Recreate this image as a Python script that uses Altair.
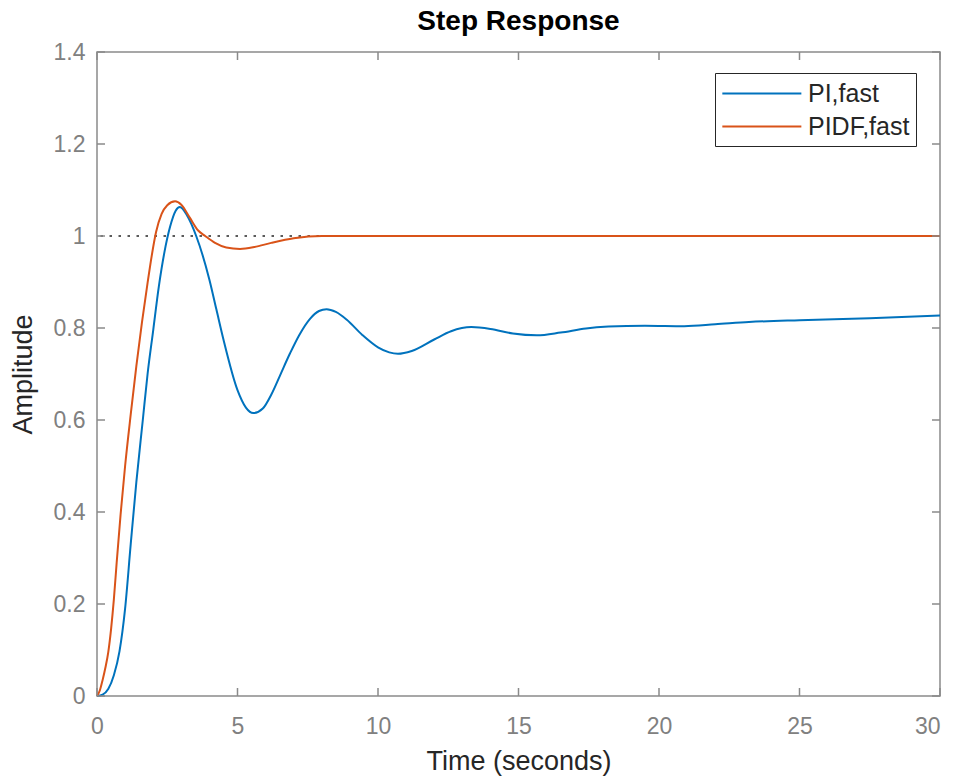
import altair as alt
import pandas as pd

# ---- data ----
series_names = ["PI,fast", "PIDF,fast"]
series_colors = ["#0072BD", "#D95319"]

pi_t = [0, 0.2, 0.4, 0.6, 0.8, 1.0, 1.2, 1.4, 1.63, 1.8, 2.0, 2.2, 2.4, 2.6, 2.8, 2.95,
        3.2, 3.53, 4.0, 4.25, 4.5, 5.0, 5.3, 5.56, 5.9, 6.2, 6.5, 6.87, 7.2, 7.58, 7.9,
        8.17, 8.5, 8.89, 9.44, 10.0, 10.4, 10.71, 11.2, 12.0, 12.6, 13.32, 14.0, 14.8,
        15.65, 16.5, 17.4, 18.2, 19.5, 20.9, 22.0, 23.2, 25.0, 27.5, 30.0]
pi_v = [0, 0.003, 0.015, 0.045, 0.097, 0.19, 0.33, 0.465, 0.60, 0.70, 0.795, 0.89, 0.965,
        1.02, 1.055, 1.063, 1.045, 1.0, 0.905, 0.84, 0.775, 0.665, 0.627, 0.615, 0.625,
        0.655, 0.695, 0.745, 0.785, 0.82, 0.837, 0.841, 0.835, 0.818, 0.785, 0.758, 0.747,
        0.744, 0.75, 0.775, 0.793, 0.802, 0.798, 0.788, 0.784, 0.79, 0.799, 0.803, 0.805,
        0.804, 0.808, 0.813, 0.817, 0.821, 0.827]

pidf_t = [0, 0.1, 0.2, 0.3, 0.4, 0.5, 0.6, 0.7, 0.84, 1.0, 1.2, 1.4, 1.6, 1.8, 1.95, 2.1,
          2.3, 2.5, 2.78, 3.0, 3.3, 3.6, 3.85, 4.2, 4.6, 5.09, 5.6, 6.2, 7.0, 8.0, 9.0,
          12.0, 16.0, 20.0, 25.0, 30.0]
pidf_v = [0, 0.012, 0.035, 0.062, 0.095, 0.145, 0.21, 0.29, 0.395, 0.50, 0.612, 0.717, 0.812,
          0.898, 0.958, 1.008, 1.048, 1.067, 1.0755, 1.068, 1.04, 1.012, 1.0, 0.985, 0.975,
          0.972, 0.976, 0.985, 0.995, 1.0, 1.0, 1.0, 1.0, 1.0, 1.0, 1.0]

x_ticks = [0, 5, 10, 15, 20, 25, 30]
y_ticks = [0, 0.2, 0.4, 0.6, 0.8, 1.0, 1.2, 1.4]
steady_value = [1.0]

W, H = 843, 644
FONT = "Liberation Sans"
FRAME = "#8a8a8a"

df = pd.concat([
    pd.DataFrame({"t": pi_t, "v": pi_v, "series": series_names[0]}),
    pd.DataFrame({"t": pidf_t, "v": pidf_v, "series": series_names[1]}),
])

xscale = alt.Scale(domain=[0, 30], nice=False)
yscale = alt.Scale(domain=[0, 1.4], nice=False)

x_axis = alt.Axis(values=x_ticks, title="Time (seconds)", ticks=False, domain=False, grid=False,
                  labelFont=FONT, labelFontSize=23, labelColor="#808080", labelPadding=19,
                  titleFont=FONT, titleFontSize=27, titleFontWeight="normal", titleColor="#262626",
                  titlePadding=10, labelFlush=False,
                  labelAlign=alt.expr("datum.value == 30 ? 'right' : 'center'"))
y_axis = alt.Axis(values=y_ticks, title="Amplitude", ticks=False, domain=False, grid=False,
                  labelFont=FONT, labelFontSize=23, labelColor="#808080", labelPadding=12,
                  titleFont=FONT, titleFontSize=27, titleFontWeight="normal", titleColor="#262626",
                  titlePadding=16, labelFlush=False,
                  labelExpr="datum.value == 0 ? '0' : datum.value == 1 ? '1' : format(datum.value, '.1f')")

steady = alt.Chart(pd.DataFrame({"v": steady_value})).mark_rule(
    color="#262626", strokeWidth=1.5, strokeDash=[2.5, 6.5]
).encode(y=alt.Y("v:Q", scale=yscale, axis=y_axis))

lines = alt.Chart(df).mark_line(strokeWidth=2, interpolate="monotone").encode(
    x=alt.X("t:Q", scale=xscale, axis=x_axis),
    y=alt.Y("v:Q", scale=yscale, axis=y_axis),
    color=alt.Color("series:N", scale=alt.Scale(domain=series_names, range=series_colors),
                    legend=alt.Legend(orient="none", legendX=618, legendY=21, title=None,
                                      symbolType="M-1,0H5", symbolSize=694, symbolStrokeWidth=2,
                                      labelFont=FONT, labelFontSize=25, labelColor="#262626",
                                      labelOffset=58, fillColor="white", strokeColor="#262626",
                                      padding=6, rowPadding=5)),
)

xt = pd.DataFrame({"t": x_ticks})
yt = pd.DataFrame({"v": y_ticks})
tick_style = dict(color=FRAME, strokeWidth=1.5)
xb = alt.Chart(xt).mark_rule(**tick_style).encode(x=alt.X("t:Q", scale=xscale), y=alt.value(H), y2=alt.value(H - 8))
xtop = alt.Chart(xt).mark_rule(**tick_style).encode(x=alt.X("t:Q", scale=xscale), y=alt.value(0), y2=alt.value(8))
yl = alt.Chart(yt).mark_rule(**tick_style).encode(y=alt.Y("v:Q", scale=yscale), x=alt.value(0), x2=alt.value(8))
yr = alt.Chart(yt).mark_rule(**tick_style).encode(y=alt.Y("v:Q", scale=yscale), x=alt.value(W), x2=alt.value(W - 8))

chart = alt.layer(steady, lines, xb, xtop, yl, yr).properties(
    width=W, height=H,
    title=alt.TitleParams("Step Response", font=FONT, fontSize=28, fontWeight="bold",
                          color="#000000", anchor="middle", baseline="alphabetic", offset=10, dy=27),
    autosize=alt.AutoSizeParams(type="none"),
    padding={"left": 89, "top": 44, "right": 10, "bottom": 80},
    background="white",
).configure_view(stroke=FRAME, strokeWidth=1.5)

chart.save("out.html", embed_options={"renderer": "svg", "actions": False})
